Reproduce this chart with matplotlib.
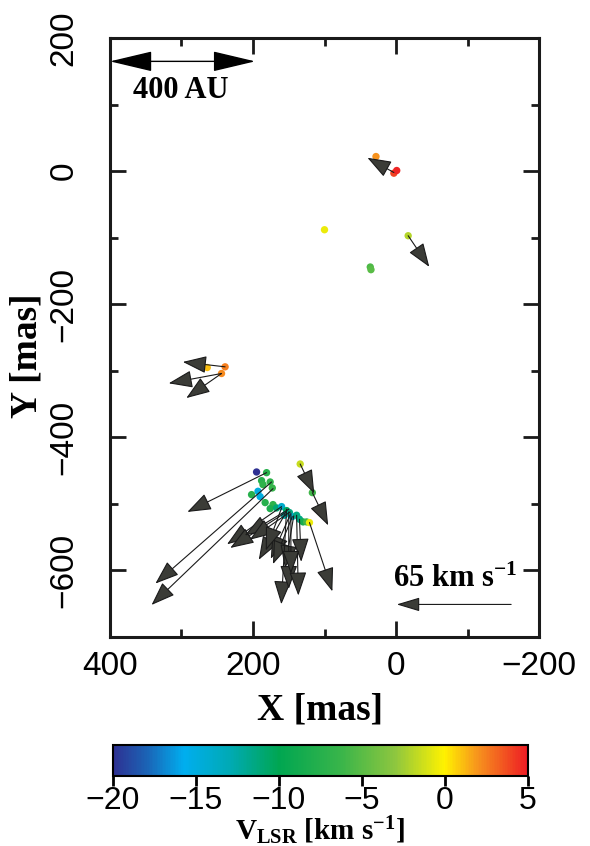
import numpy as np
import matplotlib
matplotlib.use("Agg")
import matplotlib.pyplot as plt
from matplotlib.colors import LinearSegmentedColormap, Normalize

plt.rcParams['font.family'] = ['Liberation Sans', 'DejaVu Sans']
plt.rcParams['mathtext.fontset'] = 'custom'
plt.rcParams['mathtext.rm'] = 'Liberation Serif:bold'
plt.rcParams['mathtext.bf'] = 'Liberation Serif:bold'
plt.rcParams['mathtext.it'] = 'Liberation Serif:bold'

# maser spots: position (mas) and velocity (km/s)
spot_x = [28, 18, 3, -1, -17, 36, 35, 100,
          239, 264, 244,
          195, 181, 188, 186, 176, 173, 193, 202, 190, 183, 172, 176, 167, 160,
          153, 149, 145, 139, 135, 130, 125, 121, 156, 134, 117]
spot_y = [22, 10, -3, 1, -97, -144, -148, -88,
          -294, -295, -304,
          -452, -453, -465, -471, -467, -476, -481, -486, -489, -498, -501, -507, -506, -504,
          -510, -513, -519, -517, -523, -527, -527, -528, -517, -440, -483]
spot_v = [2.0, 4.5, 4.0, 4.8, -2.0, -5.5, -5.0, -0.5,
          2.5, 1.0, 2.2,
          -20, -7.5, -7.5, -7, -7, -6.5, -15, -7.5, -15, -7.5, -7, -8, -11, -14,
          -10.5, -11.5, -14, -11.5, -11.5, -8.5, -6, -0.5, -12.5, -1.5, -6]

# proper motions: start position (mas) and velocity (km/s)
pm_x = [3, -17, 239, 244, 244,
        181, 174, 172, 134, 117, 121,
        160, 153, 150, 148, 155, 148, 145, 143, 153, 150, 139, 135, 160, 147]
pm_y = [-2, -97, -294, -304, -304,
        -453, -467, -477, -440, -483, -528,
        -504, -512, -508, -512, -515, -516, -519, -518, -508, -512, -517, -523, -506, -514]
pm_vx = [15, -12, 24, 30, 20,
         45, 66, 69, -8, -9, -13,
         31, 32, 25, 23, 15, 11, 11, 5, 3, 0, -1, -1, 9, 0]
pm_vy = [9, -19, 3, -6, -15,
         -24, -62, -71, -18, -20, -42,
         -23, -22, -16, -17, -28, -27, -29, -32, -58, -47, -49, -26, -26, -37]

MAS_PER_KMS = 160 / 65.0

cmap = LinearSegmentedColormap.from_list('vlsr', [
    (0.00, '#2e3192'), (0.08, '#1b63b5'), (0.17, '#00aeef'), (0.28, '#00aab5'),
    (0.40, '#00a651'), (0.55, '#39b54a'), (0.68, '#8dc63f'), (0.80, '#fff200'),
    (0.88, '#f7941d'), (1.00, '#ed1c24')])
norm = Normalize(vmin=-20, vmax=5)

head = dict(shrinkA=0, shrinkB=0, lw=0.8, ec='#1a1a1a', fc='#3b3c37')

fig = plt.figure(figsize=(5.9, 8.46), dpi=100)
ax = fig.add_axes([0.1864, 0.247, 0.7272, 0.708])

sc = ax.scatter(spot_x, spot_y, c=spot_v, cmap=cmap, norm=norm, s=28,
                linewidths=0, zorder=3)

for x, y, vx, vy in zip(pm_x, pm_y, pm_vx, pm_vy):
    ax.annotate('', xy=(x + vx * MAS_PER_KMS, y + vy * MAS_PER_KMS), xytext=(x, y),
                arrowprops=dict(arrowstyle='-|>,head_length=1.15,head_width=0.42',
                                mutation_scale=13, **head),
                zorder=4)

# scale bar 400 AU
ax.annotate('', xy=(197, 165), xytext=(400, 165),
            arrowprops=dict(arrowstyle='<|-|>,head_length=1.35,head_width=0.32',
                            mutation_scale=20, shrinkA=0, shrinkB=0,
                            lw=1.0, color='black'))
ax.text(301, 121, '400 AU', family='Liberation Serif', fontweight='bold',
        fontsize=22, ha='center', va='center')

# 65 km/s reference arrow
ax.annotate('', xy=(-1, -651), xytext=(-1 - 65 * MAS_PER_KMS, -651),
            arrowprops=dict(arrowstyle='-|>,head_length=1.2,head_width=0.36',
                            mutation_scale=12, **head))
ax.text(-83, -614, r'65 km s$^{\mathbf{-1}}$', family='Liberation Serif',
        fontweight='bold', fontsize=22, ha='center', va='center')

ax.set_xlim(400, -200)
ax.set_ylim(-700, 200)
ax.set_xticks([400, 200, 0, -200])
ax.set_xticks([300, 100, -100], minor=True)
ax.set_yticks([-600, -400, -200, 0, 200])
ax.set_yticks([-700, -500, -300, -100, 100], minor=True)
ax.tick_params(which='both', direction='in', top=True, right=True, width=2,
               labelsize=24, color='#1a1a1a')
ax.tick_params(which='major', length=11.5)
ax.tick_params(which='minor', length=6)
ax.tick_params(axis='x', pad=10)
ax.tick_params(axis='y', pad=22, labelrotation=90)
for lab in ax.get_yticklabels():
    lab.set_va('center')
for s in ax.spines.values():
    s.set_linewidth(2.2)
    s.set_color('#1a1a1a')

ax.set_xlabel('X [mas]', family='Liberation Serif', fontweight='bold', fontsize=27)
ax.set_ylabel('Y [mas]', family='Liberation Serif', fontweight='bold', fontsize=27)
ax.xaxis.set_label_coords(0.49, -0.093)
ax.yaxis.set_label_coords(-0.152, 0.47)

cax = fig.add_axes([0.1915, 0.0827, 0.703, 0.0366])
cb = fig.colorbar(sc, cax=cax, orientation='horizontal')
cb.set_ticks([-20, -15, -10, -5, 0, 5])
cb.ax.tick_params(direction='out', length=7, width=2, labelsize=23, pad=0)
cb.outline.set_linewidth(1.5)
fig.text(0.542, 0.0075, r'V$_{\mathbf{LSR}}$ [km s$^{\mathbf{-1}}$]', family='Liberation Serif',
         fontweight='bold', fontsize=21, ha='center', va='baseline')

fig.savefig('out.png', dpi=100)
